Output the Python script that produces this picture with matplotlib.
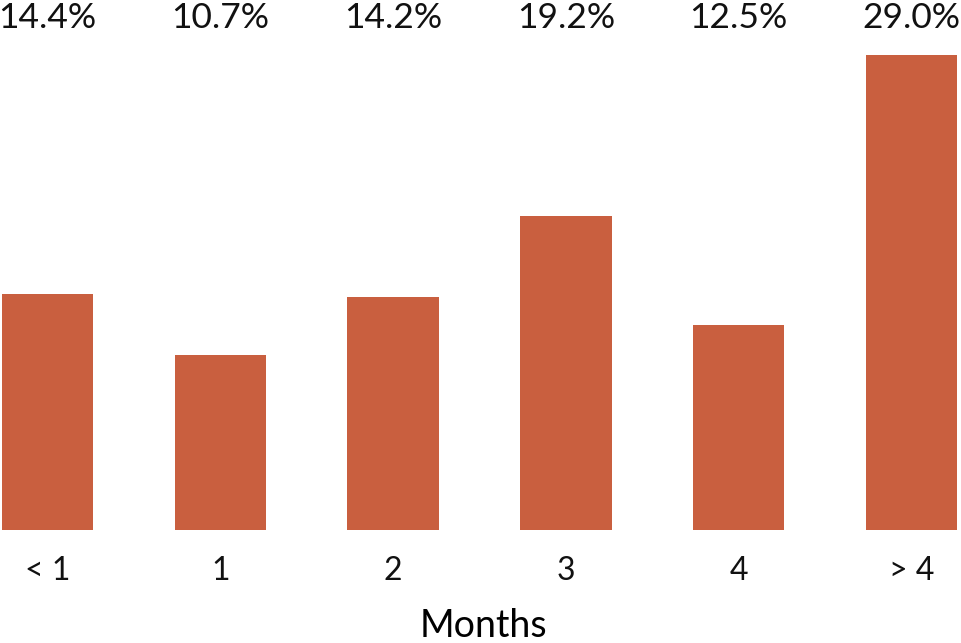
import matplotlib
matplotlib.use("Agg")
import matplotlib.pyplot as plt
import matplotlib.transforms as mtransforms

CATEGORIES = ["<1", "1", "2", "3", "4", ">4"]
TICK_LABELS = ["< 1", "1", "2", "3", "4", "> 4"]
SHARES = [14.4, 10.7, 14.2, 19.2, 12.5, 29.0]

BAR_COLOR = "#C95F3F"
FONT = ["Lato", "DejaVu Sans"]

W, H = 962, 643
fig = plt.figure(figsize=(W / 100, H / 100), dpi=100)

# axes placed in pixel terms: bar bottoms sit at y=530 px from the top
ax = fig.add_axes([0, 113 / H, 1, (H - 113) / H])

step = 172.8
x0 = 47.5
ax.set_xlim(-x0 / step, (W - x0) / step)
px_per_unit = 475 / 29.0
ax.set_ylim(0, (H - 113) / px_per_unit)

positions = list(range(len(CATEGORIES)))
ax.bar(positions, SHARES, width=0.53, color=BAR_COLOR)

trans = mtransforms.blended_transform_factory(ax.transData, fig.transFigure)
for pos, val in zip(positions, SHARES):
    ax.text(pos, 1 - 18 / H, f"{val:.1f}%", transform=trans, ha="center",
            va="center", fontsize=25.5, family=FONT, fontweight="normal",
            color="#111111")

for pos, lab in zip(positions, TICK_LABELS):
    ax.text(pos, 1 - 571 / H, lab, transform=trans, ha="center",
            va="center", fontsize=23, family=FONT, fontweight="normal",
            color="#111111")

fig.text(483 / W, 1 - 626 / H, "Months", ha="center", va="center",
         fontsize=27, family=FONT, color="black")

ax.axis("off")
fig.savefig("out.png", dpi=100)
